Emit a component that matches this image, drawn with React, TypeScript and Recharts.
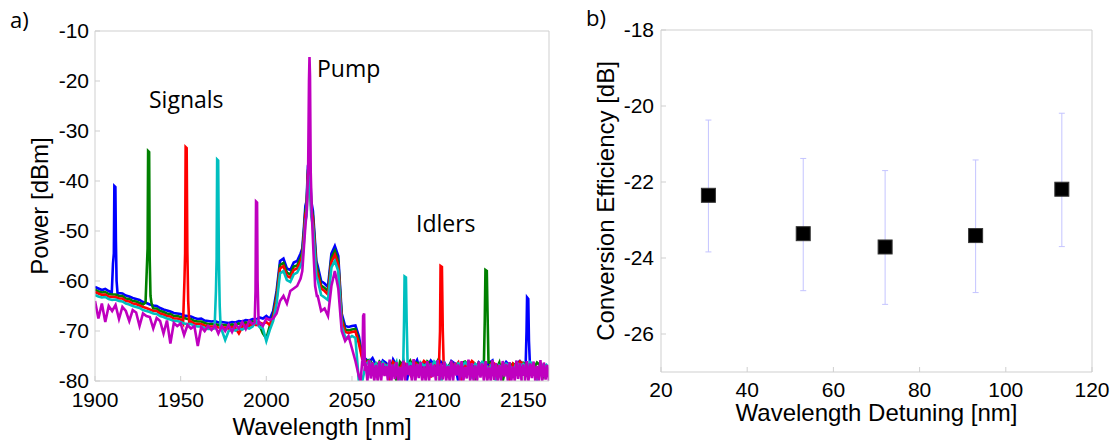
import React from "react";
import {
  LineChart,
  Line,
  XAxis,
  YAxis,
  ScatterChart,
  Scatter,
  ErrorBar,
} from "recharts";

// ---- panel a: spectra, body sampled every 2 nm from 1900 nm ----
const bodyStart = 1900;
const bodyStep = 2;

const blueBody = [
  -61.2, -61.5, -61.8, -61.6, -62.0, -62.2, -62.1, -62.4, -62.5, -62.9,
  -63.1, -63.4, -63.6, -63.8, -64.2, -64.4, -64.7, -64.9, -65.0, -65.4,
  -65.7, -65.9, -66.1, -66.4, -66.5, -66.6, -66.9, -67.0, -67.1, -67.4,
  -67.6, -67.5, -67.9, -68.0, -68.1, -68.0, -68.3, -68.2, -68.3, -68.4,
  -68.2, -68.3, -68.0, -68.1, -67.8, -67.9, -67.6, -67.7, -67.3, -67.5,
  -67.0, -67.6, -66.0, -62.0, -56.0, -55.5, -57.5, -57.8, -56.3, -56.0,
  -54.5, -48.0, -37.0, -42.0, -52.0, -57.0, -60.0, -60.5, -61.2, -54.5,
  -53.0, -55.0, -66.5, -69.0, -69.2, -69.0, -68.9, -71.0,
];
const greenBody = [
  -61.7, -62.1, -62.3, -62.2, -62.6, -62.7, -62.7, -63.0, -63.0, -63.5,
  -63.6, -64.0, -64.1, -64.4, -64.7, -65.0, -65.2, -65.5, -65.5, -66.0,
  -66.2, -66.5, -66.6, -67.0, -67.0, -67.2, -67.4, -67.6, -67.6, -68.0,
  -68.1, -68.1, -68.4, -68.6, -68.6, -68.6, -68.8, -68.8, -68.8, -69.0,
  -68.7, -68.9, -68.5, -68.7, -68.3, -68.5, -68.1, -68.3, -68.8, -70.5,
  -71.5, -69.0, -66.8, -62.8, -56.8, -56.4, -58.3, -58.7, -57.1, -56.9,
  -55.4, -49.0, -38.0, -43.0, -53.0, -57.9, -60.9, -61.4, -62.0, -55.4,
  -54.0, -56.0, -67.3, -69.7, -69.9, -69.7, -69.6, -71.8,
];
const redBody = [
  -62.2, -62.5, -62.8, -62.7, -63.1, -63.2, -63.2, -63.5, -63.5, -64.0,
  -64.1, -64.5, -64.6, -64.9, -65.2, -65.4, -65.7, -66.0, -66.0, -66.5,
  -66.7, -67.0, -67.1, -67.5, -67.5, -67.7, -67.9, -68.1, -68.1, -68.5,
  -68.6, -68.6, -68.9, -69.1, -69.1, -69.1, -69.3, -69.3, -69.3, -69.5,
  -69.2, -69.4, -70.5, -69.2, -68.8, -69.0, -68.6, -68.8, -68.3, -68.6,
  -68.2, -68.8, -67.4, -63.5, -57.5, -57.0, -59.0, -59.3, -57.8, -57.5,
  -56.0, -49.8, -38.5, -43.8, -53.6, -58.6, -61.5, -62.0, -62.7, -56.2,
  -54.8, -56.8, -67.9, -70.2, -70.4, -70.2, -70.1, -72.5,
];
const cyanBody = [
  -62.8, -63.1, -63.3, -63.2, -63.6, -63.8, -63.7, -64.0, -64.1, -64.5,
  -64.7, -65.0, -65.2, -65.4, -65.8, -66.0, -66.2, -66.5, -66.6, -67.0,
  -67.2, -67.5, -67.7, -68.0, -68.0, -68.2, -68.5, -68.6, -68.6, -69.0,
  -69.1, -69.1, -69.4, -69.6, -69.6, -69.6, -69.8, -69.8, -71.8, -70.0,
  -69.7, -69.9, -69.5, -69.7, -69.3, -69.5, -69.1, -68.0, -69.2, -69.5,
  -72.0, -69.8, -68.0, -64.5, -58.5, -58.0, -59.8, -60.2, -58.7, -58.3,
  -57.0, -50.8, -39.5, -45.0, -54.5, -59.8, -62.8, -63.3, -63.8, -57.3,
  -56.0, -58.0, -69.0, -71.2, -71.5, -71.0, -71.4, -80.0,
];
const magentaBody = [
  -64.0, -67.5, -64.5, -68.2, -65.0, -66.0, -64.8, -67.6, -65.2, -66.0,
  -68.0, -65.8, -66.3, -69.0, -66.5, -67.0, -67.2, -69.5, -67.4, -68.0,
  -70.5, -67.9, -72.5, -68.4, -69.0, -68.5, -70.8, -68.8, -69.5, -69.0,
  -73.0, -69.2, -70.0, -69.0, -69.8, -68.9, -70.5, -69.0, -70.0, -68.8,
  -70.2, -68.6, -69.5, -68.2, -69.6, -68.0, -68.6, -67.8, -68.3, -69.0,
  -67.5, -67.8, -67.5, -66.5, -64.0, -63.0, -64.5, -62.0, -61.5, -61.0,
  -59.5, -54.0, -42.0, -50.0, -60.0, -63.0, -66.0, -65.5, -67.0, -61.0,
  -58.0, -61.5, -70.0, -72.0, -71.0, -73.5, -76.0, -79.0,
];

// noise floor after the pump, 2 nm step from 2056 nm
const tailStart = 2056;
const blueTail = [
  -74.8, -75.6, -76.2, -75.4, -76.8, -77.6, -75.9, -76.4, -78.6, -75.7,
  -76.9, -77.3, -76.0, -80.0, -76.4, -77.0, -75.8, -78.1, -76.5, -77.1,
  -75.9, -76.7, -79.6, -76.2, -76.9, -77.6, -76.0, -76.5, -80.0, -76.8,
  -77.2, -76.1, -76.6, -78.3, -76.3, -77.0, -77.5, -76.4, -75.9, -79.1,
  -76.7, -77.4, -76.2, -76.9, -78.0, -76.5, -76.0, -76.8, -77.7, -76.3,
  -77.0, -80.0, -76.6, -77.3, -76.9,
];
const greenTail = [
  -75.2, -76.0, -75.8, -76.6, -77.4, -76.1, -76.9, -77.8, -76.3, -76.7,
  -80.0, -76.2, -77.1, -76.8, -75.9, -77.6, -76.4, -76.9, -78.4, -76.1,
  -76.6, -77.3, -76.0, -80.0, -76.8, -77.2, -76.3, -76.9, -77.9, -76.4,
  -76.1, -77.0, -76.7, -79.2, -76.4, -76.9, -77.5, -76.2, -76.6, -77.8,
  -76.3, -80.0, -76.8, -77.1, -76.5, -76.9, -78.2, -76.4, -77.0, -76.7,
  -77.6, -76.3, -76.9, -79.0, -77.2,
];
const redTail = [
  -75.6, -76.3, -76.0, -77.0, -76.5, -77.9, -76.4, -76.8, -80.0, -76.2,
  -76.9, -77.5, -76.3, -76.8, -78.6, -76.1, -76.7, -77.2, -76.0, -76.6,
  -79.3, -76.4, -77.0, -76.2, -76.8, -77.7, -76.5, -77.1, -76.3, -80.0,
  -76.7, -77.2, -76.0, -76.6, -78.1, -76.4, -76.9, -77.4, -76.2, -76.8,
  -77.9, -76.5, -77.0, -80.0, -76.6, -77.3, -76.1, -76.7, -77.6, -76.4,
  -77.0, -78.5, -76.6, -77.2, -76.8,
];
const cyanTail = [
  -80.0, -76.8, -76.0, -77.2, -76.5, -78.0, -76.3, -77.1, -76.6, -77.8,
  -76.2, -80.0, -76.7, -77.3, -76.4, -76.9, -78.4, -76.3, -77.0, -76.5,
  -77.6, -76.1, -76.8, -80.0, -76.4, -77.2, -76.7, -78.0, -76.5, -77.1,
  -76.3, -76.9, -79.5, -76.6, -77.3, -76.2, -76.8, -77.7, -76.4, -80.0,
  -76.9, -77.4, -76.5, -76.8, -78.3, -76.3, -77.0, -76.6, -77.5, -76.2,
  -76.8, -79.8, -76.5, -77.1, -76.6,
];
// magenta floor is denser: 1 nm step from 2055 nm
const magentaTailStart = 2055;
const magentaTail = [
  -80.0, -76.0, -80.0, -76.5, -80.0, -75.8, -79.5, -76.3, -80.0, -76.8,
  -80.0, -76.0, -80.0, -76.4, -79.0, -77.0, -80.0, -75.7, -80.0, -76.7,
  -79.6, -76.2, -80.0, -77.2, -80.0, -75.9, -80.0, -76.4, -78.8, -76.9,
  -80.0, -75.6, -80.0, -76.6, -79.4, -76.2, -80.0, -77.1, -80.0, -76.0,
  -80.0, -76.4, -79.2, -76.8, -80.0, -75.8, -80.0, -76.5, -79.7, -76.1,
  -80.0, -77.0, -80.0, -75.9, -80.0, -76.3, -78.9, -76.7, -80.0, -76.0,
  -80.0, -77.2, -79.5, -75.7, -80.0, -76.4, -80.0, -76.9, -80.0, -76.1,
  -79.3, -76.5, -80.0, -76.0, -80.0, -77.3, -80.0, -75.8, -79.8, -76.4,
  -80.0, -76.8, -80.0, -76.0, -79.1, -76.6, -80.0, -76.2, -80.0, -77.1,
  -80.0, -75.9, -79.6, -76.4, -80.0, -76.7, -80.0, -76.0, -80.0, -76.5,
  -79.4, -76.1, -80.0, -77.0, -80.0, -75.8, -80.0, -76.3, -79.7, -76.8,
  -80.0,
];

// narrow lines as [wavelength, power] pairs
const blueSignal = [[1909.8, -62.3], [1910.5, -56.5], [1911.0, -54.5], [1911.3, -41.0], [1911.9, -41.2], [1912.2, -52], [1912.6, -60], [1913.2, -62.6]];
const greenSignal = [[1929.5, -64.3], [1930.2, -58], [1930.7, -53.5], [1931.0, -34.0], [1931.6, -34.2], [1931.9, -55], [1932.4, -63], [1933.0, -64.5]];
const redSignal = [[1951.4, -68.5], [1952.2, -60], [1952.6, -54.5], [1952.9, -33.2], [1953.5, -33.4], [1953.9, -54], [1954.4, -64], [1955.0, -68.3]];
const cyanSignal = [[1969.8, -69.5], [1970.6, -62], [1971.0, -55.5], [1971.3, -35.7], [1971.9, -35.9], [1972.3, -56], [1972.8, -65], [1973.4, -69.8]];
const magentaSignal = [[1993.2, -68.3], [1993.7, -62], [1994.0, -44.1], [1994.6, -44.3], [1994.9, -60], [1995.5, -68.5]];

const bluePump = [[2021.0, -53.5], [2022.0, -49], [2022.8, -45], [2023.5, -44], [2024.3, -37], [2024.8, -36.3], [2025.4, -36.5], [2026.2, -44], [2027.2, -46], [2028.2, -51], [2029.2, -56]];
const greenPump = [[2021.0, -54.3], [2022.0, -50], [2022.8, -46], [2023.5, -45], [2024.3, -38], [2024.8, -37], [2025.4, -37.3], [2026.2, -45], [2027.2, -47], [2028.2, -52], [2029.2, -57]];
const redPump = [[2021.0, -55], [2022.0, -50.8], [2022.8, -46.8], [2023.5, -45.8], [2024.3, -38.8], [2024.8, -37.8], [2025.4, -38], [2026.2, -45.8], [2027.2, -47.8], [2028.2, -52.8], [2029.2, -57.8]];
const cyanPump = [[2021.0, -56], [2022.0, -52], [2022.8, -48], [2023.5, -47], [2024.3, -40], [2024.8, -39], [2025.4, -39.5], [2026.2, -47], [2027.2, -49], [2028.2, -54], [2029.2, -59]];
const magentaPump = [[2021.0, -58], [2022.0, -53], [2022.8, -49], [2023.6, -46], [2024.4, -38], [2024.9, -20], [2025.2, -15.2], [2025.5, -19], [2025.9, -38], [2026.6, -47], [2027.5, -54], [2028.5, -61], [2029.5, -63]];

const blueIdler = [[2151.4, -76.5], [2151.9, -70], [2152.2, -63.3], [2152.9, -63.6], [2153.3, -72], [2153.9, -77]];
const greenIdler = [[2127.0, -76.5], [2127.5, -68], [2127.9, -57.8], [2128.7, -58], [2129.1, -66], [2129.7, -76.5]];
const redIdler = [[2100.8, -76.5], [2101.4, -70], [2101.7, -57.0], [2102.5, -57.2], [2103.0, -70], [2103.5, -76.5]];
const cyanIdler = [[2079.9, -77], [2080.4, -68], [2080.7, -59.1], [2081.5, -59.3], [2081.9, -68], [2082.5, -77]];
const magentaIdler = [[2056.1, -77], [2056.5, -67], [2057.1, -66.5], [2057.5, -78]];

const spectrumTicksX = [1900, 1950, 2000, 2050, 2100, 2150];
const spectrumTicksY = [-80, -70, -60, -50, -40, -30, -20, -10];

// ---- panel b: conversion efficiency ----
const detuning = [31, 53, 72, 93, 113];
const efficiency = [-22.35, -23.36, -23.71, -23.41, -22.19];
const errLow = [1.49, 1.5, 1.51, 1.5, 1.51];
const errHigh = [1.98, 1.98, 2.01, 1.99, 2.0];

const ceTicksX = [20, 40, 60, 80, 100, 120];
const ceTicksY = [-26, -24, -22, -20, -18];

type Pt = { w: number; p: number };

function buildTrace(
  body: number[],
  tail: number[],
  tStart: number,
  tStep: number,
  peaks: number[][][]
): Pt[] {
  const covered = (w: number) =>
    peaks.some((pk) => w >= pk[0][0] && w <= pk[pk.length - 1][0]);
  const pts: Pt[] = [];
  body.forEach((p, i) => {
    const w = bodyStart + i * bodyStep;
    if (!covered(w)) pts.push({ w, p });
  });
  tail.forEach((p, i) => {
    const w = tStart + i * tStep;
    if (!covered(w)) pts.push({ w, p });
  });
  peaks.forEach((pk) => pk.forEach(([w, p]) => pts.push({ w, p })));
  return pts.sort((a, b) => a.w - b.w);
}

const traces = [
  { name: "blue", color: "#0000ff", data: buildTrace(blueBody, blueTail, tailStart, 2, [blueSignal, bluePump, blueIdler]) },
  { name: "green", color: "#008000", data: buildTrace(greenBody, greenTail, tailStart, 2, [greenSignal, greenPump, greenIdler]) },
  { name: "red", color: "#ff0000", data: buildTrace(redBody, redTail, tailStart, 2, [redSignal, redPump, redIdler]) },
  { name: "cyan", color: "#00bfbf", data: buildTrace(cyanBody, cyanTail, tailStart, 2, [cyanSignal, cyanPump, cyanIdler]) },
  { name: "magenta", color: "#bf00bf", data: buildTrace(magentaBody, magentaTail, magentaTailStart, 1, [magentaSignal, magentaPump, magentaIdler]) },
];

const ceData = detuning.map((x, i) => ({
  x,
  y: efficiency[i],
  err: [errLow[i], errHigh[i]],
}));

const axisGrey = "#cfcfcf";
const tickFont = { fill: "#000", fontSize: 21 };
const titleFont = { fill: "#000", fontSize: 24 };

function Square(props: any) {
  const { cx, cy } = props;
  return <rect x={cx - 7} y={cy - 7} width={14} height={14} fill="#000" stroke="#333" strokeWidth={1} />;
}

export default function App() {
  return (
    <div
      style={{
        position: "absolute",
        left: 0,
        top: 0,
        width: 1115,
        height: 441,
        background: "#fff",
        fontFamily: '"Liberation Sans", Arial, sans-serif',
      }}
    >
      <div style={{ position: "absolute", left: 0, top: 0 }}>
        <LineChart width={560} height={441} margin={{ top: 30, right: 10, bottom: 0, left: 0 }}>
          <XAxis
            dataKey="w"
            type="number"
            domain={[1900, 2165]}
            ticks={spectrumTicksX}
            interval={0}
            allowDataOverflow
            height={60}
            stroke={axisGrey}
            tickSize={-5}
            tickMargin={16}
            tick={tickFont}
            label={{ value: "Wavelength [nm]", position: "insideBottom", offset: 6, ...titleFont }}
          />
          <XAxis
            xAxisId="top"
            orientation="top"
            type="number"
            domain={[1900, 2165]}
            ticks={spectrumTicksX}
            interval={0}
            allowDataOverflow
            height={1}
            stroke={axisGrey}
            tickSize={-5}
            tick={false}
          />
          <YAxis
            type="number"
            domain={[-80, -10]}
            ticks={spectrumTicksY}
            interval={0}
            allowDataOverflow
            width={95}
            stroke={axisGrey}
            tickSize={-5}
            tickMargin={11}
            tick={tickFont}
            label={{
              value: "Power [dBm]",
              angle: -90,
              position: "insideLeft",
              offset: 39,
              style: { textAnchor: "middle" },
              ...titleFont,
            }}
          />
          <YAxis
            yAxisId="right"
            orientation="right"
            type="number"
            domain={[-80, -10]}
            ticks={spectrumTicksY}
            interval={0}
            allowDataOverflow
            width={1}
            stroke={axisGrey}
            tickSize={-5}
            tick={false}
          />
          {traces.map((t) => (
            <Line
              key={t.name}
              data={t.data}
              dataKey="p"
              type="linear"
              stroke={t.color}
              strokeWidth={2.6}
              dot={false}
              activeDot={false}
              isAnimationActive={false}
            />
          ))}
        </LineChart>
      </div>

      <div style={{ position: "absolute", left: 560, top: 0 }}>
        <ScatterChart width={555} height={441} margin={{ top: 29, right: 22, bottom: 0, left: 0 }}>
          <XAxis
            dataKey="x"
            type="number"
            domain={[20, 120]}
            ticks={ceTicksX}
            interval={0}
            allowDataOverflow
            height={69}
            stroke={axisGrey}
            tickSize={-5}
            tickMargin={15}
            tick={tickFont}
            label={{ value: "Wavelength Detuning [nm]", position: "insideBottom", offset: 20, ...titleFont }}
          />
          <XAxis
            xAxisId="top"
            orientation="top"
            type="number"
            domain={[20, 120]}
            ticks={ceTicksX}
            interval={0}
            allowDataOverflow
            height={1}
            stroke={axisGrey}
            tickSize={-5}
            tick={false}
          />
          <YAxis
            dataKey="y"
            type="number"
            domain={[-27, -18]}
            ticks={ceTicksY}
            interval={0}
            allowDataOverflow
            width={101}
            stroke={axisGrey}
            tickSize={-5}
            tickMargin={12}
            tick={tickFont}
            label={{
              value: "Conversion Efficiency [dB]",
              angle: -90,
              position: "insideLeft",
              offset: 45,
              style: { textAnchor: "middle" },
              ...titleFont,
            }}
          />
          <YAxis
            yAxisId="right"
            orientation="right"
            type="number"
            domain={[-27, -18]}
            ticks={ceTicksY}
            interval={0}
            allowDataOverflow
            width={1}
            stroke={axisGrey}
            tickSize={-5}
            tick={false}
          />
          <Scatter data={ceData} shape={<Square />} isAnimationActive={false}>
            <ErrorBar dataKey="err" direction="y" stroke="#c4c4ff" strokeWidth={1} width={3} isAnimationActive={false} />
          </Scatter>
        </ScatterChart>
      </div>

      <svg
        width={1115}
        height={441}
        style={{ position: "absolute", left: 0, top: 0, pointerEvents: "none" }}
        fontFamily='"Open Sans", sans-serif'
        fill="#000"
      >
        <text x={10} y={28} fontSize={22}>a)</text>
        <text x={586} y={26} fontSize={22}>b)</text>
        <text x={149} y={108} fontSize={23}>Signals</text>
        <text x={317} y={77} fontSize={23}>Pump</text>
        <text x={416} y={232} fontSize={23}>Idlers</text>
      </svg>
    </div>
  );
}
